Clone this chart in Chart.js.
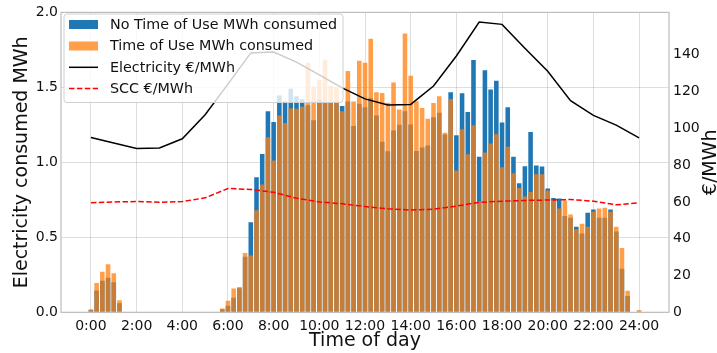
<!DOCTYPE html>
<html>
<head>
<meta charset="utf-8">
<script src="https://cdn.jsdelivr.net/npm/chart.js@4/dist/chart.umd.min.js"></script>
<style>
    html, body { margin: 0; padding: 0; background: #fff; }
    #wrap { width: 717px; height: 353px; }
</style>
</head>
<body>
<div id="wrap"><canvas id="energyChart" width="717" height="353"></canvas></div>
<script>
// 15-minute slots, 0:00 .. 24:00
const slotCount = 97;
const slotHours = Array.from({length: slotCount}, (_, i) => i / 4);

const noTouMWh = [
    0.015, 0.145, 0.21, 0.23, 0.2, 0.06,
    0, 0, 0, 0, 0, 0, 0, 0, 0, 0, 0, 0, 0, 0, 0, 0, 0,
    0.02, 0.044, 0.097, 0.16, 0.37, 0.6, 0.9, 1.055,
    1.34, 1.269, 1.446, 1.408, 1.49, 1.44, 1.42, 1.38, 1.28, 1.42,
    1.4, 1.4, 1.4, 1.375, 1.406, 1.243, 1.39, 1.368, 1.428, 1.313,
    1.137, 1.074, 1.212, 1.251, 1.34, 1.252, 1.076, 1.099, 1.113, 1.3,
    1.33, 1.185, 1.467, 1.181, 1.461, 1.335, 1.683, 1.038, 1.615, 1.485,
    1.545, 1.265, 1.368, 1.038, 0.86, 0.974, 1.203, 0.979, 0.972, 0.825,
    0.762, 0.759, 0.642, 0.631, 0.57, 0.526, 0.664, 0.686, 0.631, 0.631,
    0.686, 0.539, 0.29, 0.108, 0, 0.005
];

const touMWh = [
    0.02, 0.195, 0.27, 0.32, 0.26, 0.08,
    0, 0, 0, 0, 0, 0, 0, 0, 0, 0, 0, 0, 0, 0, 0, 0, 0,
    0.025, 0.077, 0.158, 0.169, 0.396, 0.378, 0.68, 0.853,
    1.167, 1.012, 1.313, 1.263, 1.36, 1.357, 1.37, 1.665, 1.505, 1.55,
    1.685, 1.51, 1.5, 1.34, 1.61, 1.406, 1.677, 1.665, 1.824, 1.467,
    1.463, 1.398, 1.533, 1.353, 1.859, 1.578, 1.408, 1.362, 1.29, 1.395,
    1.44, 1.197, 1.423, 0.946, 1.221, 1.054, 1.247, 0.741, 1.065, 1.126,
    1.188, 0.968, 1.104, 0.928, 0.829, 0.772, 0.803, 0.921, 0.921, 0.812,
    0.747, 0.693, 0.746, 0.653, 0.554, 0.591, 0.57, 0.671, 0.693, 0.697,
    0.671, 0.57, 0.429, 0.143, 0, 0.015
];

// hourly prices, 0:00 .. 24:00
const priceHours = [0, 1, 2, 3, 4, 5, 6, 7, 8, 9, 10, 11, 12, 13, 14, 15, 16, 17, 18, 19, 20, 21, 22, 23, 24];
const electricityPrice = [95, 92, 89, 89.3, 94.3, 107.4, 124, 141, 141.5, 136, 129, 122, 116, 112.7, 113,
    123, 139.3, 157.8, 156.5, 143.5, 131, 115, 107, 101.7, 94.8];
const sccPrice = [59.5, 60, 60.2, 59.8, 60.2, 62.2, 67.3, 66.8, 65.2, 62, 60, 59, 57.5, 56.3, 55.6,
    56, 57.7, 59.8, 60.4, 60.8, 61, 61.3, 60.4, 58.4, 59.5];

const hourTicks = [0, 2, 4, 6, 8, 10, 12, 14, 16, 18, 20, 22, 24];
const mwhTicks = [0, 0.5, 1, 1.5, 2];
const priceTicks = [0, 20, 40, 60, 80, 100, 120, 140];

const FONT = "'DejaVu Sans', 'Liberation Sans', sans-serif";
const TEXT = "#111";
const GRID = "rgba(0,0,0,0.13)";

function points(xs, ys) {
    return xs.map((x, i) => ({x: x, y: ys[i]}));
}

function fixedTicks(values) {
    return (scale) => {
        scale.ticks = values.map((v) => ({value: v}));
    };
}

// legend box inside the plot (semi transparent, like matplotlib), frame and right title
const overlay = {
    id: "overlay",
    afterDatasetsDraw(chart) {
        const {ctx, chartArea: a} = chart;
        ctx.save();
        ctx.strokeStyle = "#bdbdbd";
        ctx.lineWidth = 1.2;
        ctx.strokeRect(a.left, a.top, a.right - a.left, a.bottom - a.top);

        const box = {x: 64, y: 14, w: 279, h: 88.5};
        ctx.beginPath();
        if (ctx.roundRect) {
            ctx.roundRect(box.x, box.y, box.w, box.h, 3);
        } else {
            ctx.rect(box.x, box.y, box.w, box.h);
        }
        ctx.fillStyle = "rgba(255,255,255,0.8)";
        ctx.fill();
        ctx.strokeStyle = "#d0d0d0";
        ctx.lineWidth = 1;
        ctx.stroke();

        const rows = [24.5, 46, 67.3, 88.5];
        ctx.font = `14.3px ${FONT}`;
        ctx.textBaseline = "middle";
        ctx.textAlign = "left";
        chart.data.datasets.forEach((ds, i) => {
            const y = rows[i];
            if (ds.type === "line") {
                ctx.beginPath();
                ctx.setLineDash(ds.borderDash || []);
                ctx.strokeStyle = ds.borderColor;
                ctx.lineWidth = ds.borderWidth;
                ctx.moveTo(69, y);
                ctx.lineTo(98, y);
                ctx.stroke();
                ctx.setLineDash([]);
            } else {
                ctx.fillStyle = ds.backgroundColor;
                ctx.fillRect(69, y - 4.5, 29, 9);
            }
            ctx.fillStyle = TEXT;
            ctx.fillText(ds.label, 110, y + 0.5);
        });
        ctx.restore();
    },
    afterDraw(chart) {
        const {ctx, chartArea: a} = chart;
        ctx.save();
        ctx.translate(715.5, (a.top + a.bottom) / 2);
        ctx.rotate(-Math.PI / 2);
        ctx.font = `19px ${FONT}`;
        ctx.fillStyle = TEXT;
        ctx.textAlign = "center";
        ctx.textBaseline = "alphabetic";
        ctx.fillText("€/MWh", 0, 0);
        ctx.restore();
    }
};

new Chart(document.getElementById("energyChart"), {
    type: "bar",
    data: {
        datasets: [
            {
                label: "No Time of Use MWh consumed",
                data: points(slotHours, noTouMWh),
                backgroundColor: "#1f77b4",
                grouped: false,
                barPercentage: 0.8,
                categoryPercentage: 1,
                yAxisID: "y",
                order: 3
            },
            {
                label: "Time of Use MWh consumed",
                data: points(slotHours, touMWh),
                backgroundColor: "rgba(255,127,14,0.75)",
                grouped: false,
                barPercentage: 0.8,
                categoryPercentage: 1,
                yAxisID: "y",
                order: 2
            },
            {
                type: "line",
                label: "Electricity €/MWh",
                data: points(priceHours, electricityPrice),
                borderColor: "#000000",
                borderWidth: 1.5,
                pointRadius: 0,
                yAxisID: "y1",
                order: 0
            },
            {
                type: "line",
                label: "SCC €/MWh",
                data: points(priceHours, sccPrice),
                borderColor: "#ff0000",
                borderWidth: 1.5,
                borderDash: [5.5, 2.4],
                pointRadius: 0,
                yAxisID: "y1",
                order: 1
            }
        ]
    },
    options: {
        responsive: false,
        animation: false,
        layout: {padding: {top: 9.3, left: 0, right: 0, bottom: 0}},
        plugins: {legend: {display: false}, tooltip: {enabled: false}},
        scales: {
            x: {
                type: "linear",
                min: -1.31,
                max: 25.31,
                offset: false,
                afterBuildTicks: fixedTicks(hourTicks),
                afterFit: (scale) => { scale.height = 40.7; },
                grid: {color: GRID, drawTicks: false, offset: false},
                border: {display: false},
                ticks: {
                    padding: 5.5,
                    color: TEXT,
                    font: {family: FONT, size: 14},
                    callback: (v) => `${v}:00`
                },
                title: {
                    display: true,
                    text: "Time of day",
                    color: TEXT,
                    font: {family: FONT, size: 19},
                    padding: {top: 0, bottom: 0.5}
                }
            },
            y: {
                position: "left",
                min: 0,
                max: 2,
                afterBuildTicks: fixedTicks(mwhTicks),
                afterFit: (scale) => { scale.width = 61; },
                grid: {color: GRID, drawTicks: false},
                border: {display: false},
                ticks: {
                    padding: 3,
                    color: TEXT,
                    font: {family: FONT, size: 14},
                    callback: (v) => v.toFixed(1)
                },
                title: {
                    display: true,
                    text: "Electricity consumed MWh",
                    color: TEXT,
                    font: {family: FONT, size: 19},
                    padding: {top: 10.6, bottom: 0}
                }
            },
            y1: {
                position: "right",
                min: 0,
                max: 163,
                afterBuildTicks: fixedTicks(priceTicks),
                afterFit: (scale) => { scale.width = 48; },
                grid: {drawOnChartArea: false, drawTicks: false},
                border: {display: false},
                ticks: {
                    padding: 4,
                    color: TEXT,
                    font: {family: FONT, size: 14}
                }
            }
        }
    },
    plugins: [overlay]
});
</script>
</body>
</html>
